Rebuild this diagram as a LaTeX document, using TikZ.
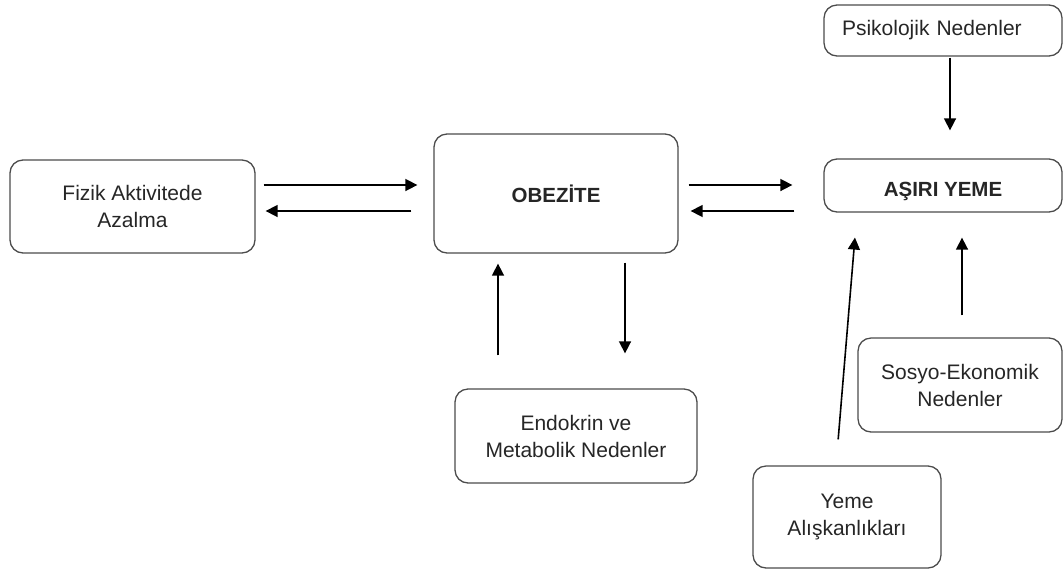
\documentclass[tikz,border=0pt]{standalone}
\usepackage{fontspec}
\setmainfont{Liberation Sans}
\usetikzlibrary{arrows.meta}
\begin{document}
\begin{tikzpicture}[x=1pt,y=-1pt,
  box/.style={draw=black!70,line width=1.3pt,rounded corners=13pt,align=center,
    text=black!85,font=\fontsize{21}{27}\selectfont,inner sep=0pt},
  boldbox/.style={box,font=\fontsize{20.5}{27}\selectfont\bfseries},
  arr/.style={line width=1.6pt,-{Triangle[length=12pt,width=12pt]}}]
\useasboundingbox (0,0) rectangle (1064,571);
\node[box,minimum width=245pt,minimum height=93pt] (fiz) at (132.5,206.5) {Fizik Aktivitede\\Azalma};
\node[boldbox,minimum width=244pt,minimum height=119pt] (obe) at (556,193.5) {OBEZİTE};
\node[boldbox,minimum width=238pt,minimum height=53pt,text height=25pt,text depth=4pt] (asi) at (943,185.5) {AŞIRI YEME};
\node[box,minimum height=51pt,text width=202pt,inner xsep=18pt,align=left] (psi) at (943,30.5) {Psikolojik Nedenler};
\node[box,minimum width=242pt,minimum height=94pt] (end) at (576,436) {Endokrin ve\\Metabolik Nedenler};
\node[box,minimum width=204pt,minimum height=94pt] (sos) at (960,385) {Sosyo-Ekonomik\\Nedenler};
\node[box,minimum width=188pt,minimum height=102pt] (yem) at (847,517) {Yeme\\Alışkanlıkları};
% Fizik <-> Obezite
\draw[arr,shorten <=8pt,shorten >=16pt] ([yshift=21.5pt]fiz.east) -- ([yshift=8.5pt]obe.west);
\draw[arr,shorten <=22pt,shorten >=10pt] ([yshift=-17.5pt]obe.west) -- ([yshift=-4.5pt]fiz.east);
% Obezite <-> Asiri yeme
\draw[arr,shorten <=10pt,shorten >=31pt] ([yshift=8.5pt]obe.east) -- ([yshift=0.5pt]asi.west);
\draw[arr,shorten <=29pt,shorten >=12pt] ([yshift=-25.5pt]asi.west) -- ([yshift=-17.5pt]obe.east);
% Psikolojik -> Asiri yeme
\draw[arr,shorten <=1pt,shorten >=28pt] ([xshift=7pt]psi.south) -- ([xshift=7pt]asi.north);
% Endokrin <-> Obezite
\draw[arr,shorten <=33pt,shorten >=10pt] ([xshift=-78pt]end.north) -- ([xshift=-58pt]obe.south);
\draw[arr,shorten <=9pt,shorten >=35pt] ([xshift=69pt]obe.south) -- ([xshift=49pt]end.north);
% Yeme aliskanliklari -> Asiri yeme
\draw[arr,shorten <=26pt,shorten >=25pt] ([xshift=-11pt]yem.north) -- ([xshift=-86pt]asi.south);
% Sosyo-ekonomik -> Asiri yeme
\draw[arr,shorten <=22pt,shorten >=25pt] ([xshift=2pt]sos.north) -- ([xshift=19pt]asi.south);
\end{tikzpicture}
\end{document}
